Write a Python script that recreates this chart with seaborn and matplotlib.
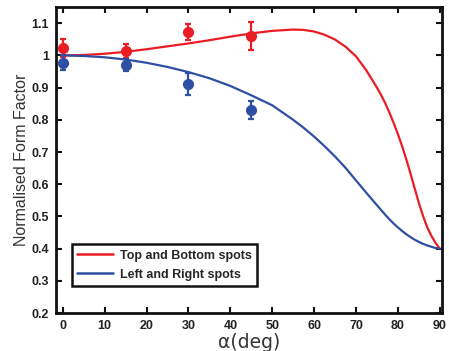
import numpy as np
import pandas as pd
import matplotlib
matplotlib.use("Agg")
import matplotlib.pyplot as plt
import seaborn as sns

# Measured form factors with uncertainties
alpha_meas = [0, 15, 30, 45]
tb_meas = [1.023, 1.013, 1.073, 1.059]
tb_err = [0.027, 0.022, 0.024, 0.043]
lr_meas = [0.977, 0.970, 0.912, 0.830]
lr_err = [0.024, 0.020, 0.034, 0.029]

# Model curves
alpha_model = [0, 5, 10, 15, 20, 25, 30, 35, 40, 45, 50, 55, 57.5, 60, 62.5,
               65, 67.5, 70, 72.5, 75, 76, 77, 78, 79, 80, 81, 82, 83, 84,
               85, 86, 87, 88, 89, 90]
tb_model = [1.000, 1.001, 1.005, 1.011, 1.019, 1.028, 1.037, 1.047, 1.058,
            1.068, 1.076, 1.080, 1.079, 1.074, 1.064, 1.049, 1.027, 0.997,
            0.953, 0.900, 0.877, 0.851, 0.822, 0.790, 0.756, 0.719, 0.678,
            0.634, 0.588, 0.543, 0.502, 0.467, 0.440, 0.418, 0.400]
lr_model = [1.000, 0.998, 0.994, 0.987, 0.977, 0.964, 0.948, 0.929, 0.905,
            0.876, 0.845, 0.800, 0.775, 0.748, 0.718, 0.686, 0.651, 0.612,
            0.573, 0.535, 0.520, 0.505, 0.491, 0.478, 0.466, 0.455, 0.445,
            0.436, 0.428, 0.421, 0.415, 0.410, 0.406, 0.402, 0.400]

tb_label = "Top and Bottom spots"
lr_label = "Left and Right spots"
red = "#EC1C24"
blue = "#2E4FA3"

sns.set_style("ticks")
plt.rcParams["font.family"] = ["Liberation Sans", "DejaVu Sans"]

fig = plt.figure(figsize=(4.49, 3.51), dpi=100)
ax = fig.add_axes([0.125, 0.108, 0.859, 0.872])

curves = pd.DataFrame({
    "alpha": alpha_model * 2,
    "ff": tb_model + lr_model,
    "spots": [tb_label] * len(alpha_model) + [lr_label] * len(alpha_model),
})
sns.lineplot(data=curves, x="alpha", y="ff", hue="spots",
             palette={tb_label: red, lr_label: blue}, lw=1.6, ax=ax,
             sort=False)

ax.errorbar(alpha_meas, tb_meas, yerr=tb_err, fmt="o", color=red, ms=7,
            elinewidth=1.6, capsize=2.5, capthick=1.6, zorder=5)
ax.errorbar(alpha_meas, lr_meas, yerr=lr_err, fmt="o", color=blue, ms=7,
            elinewidth=1.6, capsize=2.5, capthick=1.6, zorder=5)

ax.set_xlim(-1.6, 90.5)
ax.set_ylim(0.2, 1.15)
ax.set_xticks(np.arange(0, 91, 10))
yt = [0.2, 0.3, 0.4, 0.5, 0.6, 0.7, 0.8, 0.9, 1.0, 1.1]
ax.set_yticks(yt)
ax.set_yticklabels(["%g" % v for v in yt])

for s in ax.spines.values():
    s.set_visible(True)
    s.set_linewidth(2)
    s.set_color("#111111")
ax.tick_params(direction="in", top=True, right=True, length=4, width=1.5,
               labelsize=9, pad=5, colors="#111111")
for lab in ax.get_xticklabels() + ax.get_yticklabels():
    lab.set_fontweight("bold")
    lab.set_color("#222222")

ax.set_ylabel("Normalised Form Factor", fontsize=11.5, color="#333333", labelpad=2)
ax.set_xlabel("α(deg)", fontsize=13.5, color="#333333", labelpad=1,
              family=["DejaVu Sans"])

leg = ax.legend(loc="lower left", bbox_to_anchor=(0.04, 0.088),
                prop={"weight": "bold", "size": 9}, frameon=True, fancybox=False,
                handlelength=2.9, borderpad=0.45, labelspacing=0.55,
                handletextpad=0.5, borderaxespad=0)
leg.get_frame().set_edgecolor("#111111")
leg.get_frame().set_linewidth(1.8)
leg.get_frame().set_alpha(1)
for line in leg.get_lines():
    line.set_linewidth(1.8)

fig.savefig("out.png", dpi=100)
